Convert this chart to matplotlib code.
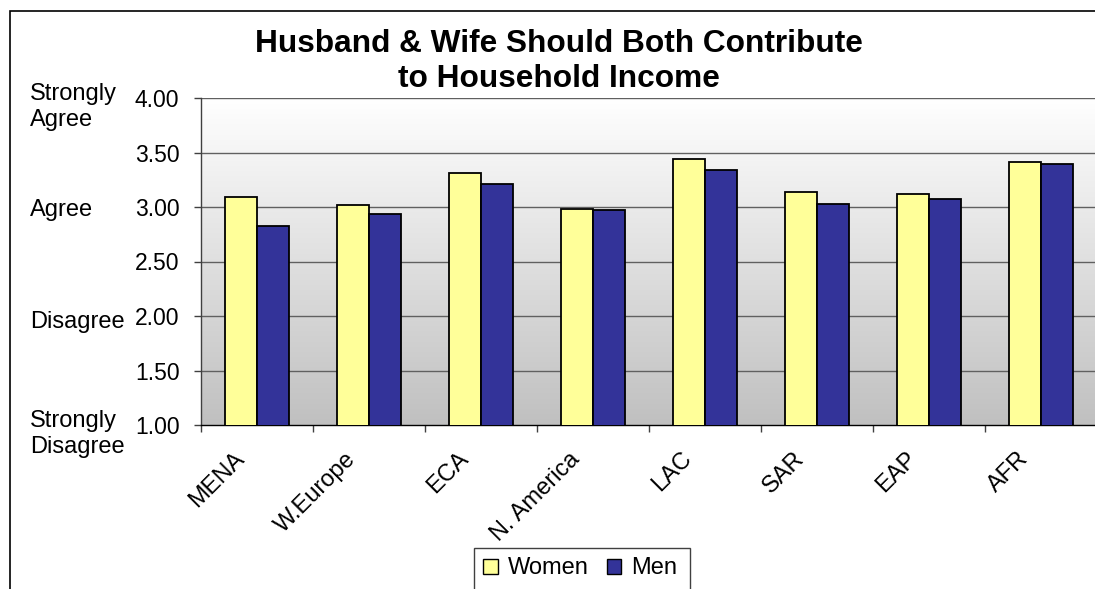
import numpy as np
import matplotlib
matplotlib.use("Agg")
import matplotlib.pyplot as plt
from matplotlib.patches import Rectangle, Patch
from matplotlib.transforms import blended_transform_factory, ScaledTranslation

plt.rcParams['font.family'] = ['Liberation Sans', 'DejaVu Sans']

regions = ["MENA", "W.Europe", "ECA", "N. America", "LAC", "SAR", "EAP", "AFR"]
women = [3.09, 3.02, 3.31, 2.98, 3.44, 3.14, 3.12, 3.41]
men = [2.83, 2.94, 3.21, 2.97, 3.34, 3.03, 3.07, 3.39]
y_ticks = [1.0, 1.5, 2.0, 2.5, 3.0, 3.5, 4.0]
scale_labels = [(4.0, "Strongly\nAgree"), (3.0, "Agree"), (2.0, "Disagree"),
                (1.0, "Strongly\nDisagree")]

W, H = 1095, 589
fig = plt.figure(figsize=(W / 100, H / 100), dpi=100)
fig.patch.set_facecolor("white")

# outer chart border (runs off the right and bottom edges)
fig.patches.append(Rectangle((9.5 / W, -0.2), 1.2, (H - 11) / H + 0.2,
                             transform=fig.transFigure, fill=False,
                             edgecolor="black", linewidth=1.2, zorder=0))

left, right, top, bottom = 201, 1097, 98, 425
ax = fig.add_axes([left / W, (H - bottom) / H, (right - left) / W, (bottom - top) / H])

n = len(regions)
x = np.arange(n)
w = 32 / 112

ax.set_xlim(-0.5, n - 0.5)
ax.set_ylim(1.0, 4.0)

# gradient plot-area fill, white at top to silver at bottom
grad = np.linspace(1.0, 0.0, 256).reshape(-1, 1)
ax.imshow(grad, extent=(-0.5, n - 0.5, 1.0, 4.0), aspect="auto",
          cmap=matplotlib.colors.LinearSegmentedColormap.from_list(
              "bg", ["#C0C0C0", "#FFFFFF"]),
          origin="upper", zorder=0, interpolation="bilinear")

for yv in y_ticks[1:]:
    ax.axhline(yv, color="#606060", linewidth=1.0, zorder=1)

ax.bar(x - w / 2, women, width=w, color="#FFFF99", edgecolor="black",
       linewidth=1.3, zorder=3, label="Women")
ax.bar(x + w / 2, men, width=w, color="#333399", edgecolor="black",
       linewidth=1.3, zorder=3, label="Men")

for side in ("top", "right"):
    ax.spines[side].set_visible(False)
ax.spines["left"].set_color("#404040")
ax.spines["bottom"].set_color("black")
ax.spines["left"].set_linewidth(1.0)
ax.spines["bottom"].set_linewidth(1.0)

ax.set_yticks(y_ticks)
ax.set_yticklabels([f"{v:.2f}" for v in y_ticks], fontsize=16.5)
ax.tick_params(axis="y", length=5, width=1, pad=10.5, color="#404040")

ax.set_xticks(x)
ax.set_xticklabels(regions, fontsize=17, rotation=45, ha="right", va="top",
                   rotation_mode="anchor")
ax.tick_params(axis="x", which="major", length=0, pad=16.5)
shift = ScaledTranslation(-24 / 100, 0, fig.dpi_scale_trans)
for lab in ax.get_xticklabels():
    lab.set_transform(lab.get_transform() + shift)
ax.set_xticks(np.arange(n + 1) - 0.5, minor=True)
ax.tick_params(axis="x", which="minor", length=5, width=1, color="#404040")

# verbal scale labels beside the numeric ticks
trans = blended_transform_factory(fig.transFigure, ax.transData)
line_gap = 29 / 109  # one text line, in data units
single_pos = {3.0: 2.97, 2.0: 1.945}
for yv, txt in scale_labels:
    if "\n" in txt:
        ax.text(30 / W, yv + 0.01 - line_gap, txt, transform=trans, fontsize=17,
                ha="left", va="baseline", linespacing=1.22, clip_on=False)
    else:
        ax.text(30 / W, single_pos[yv], txt, transform=trans, fontsize=17,
                ha="left", va="center", clip_on=False)

fig.text(559 / W, 1 - 61.5 / H, "Husband & Wife Should Both Contribute\nto Household Income",
         ha="center", va="center", fontsize=22.8, fontweight="bold", linespacing=1.18)

handles = [Patch(facecolor="#FFFF99", edgecolor="black", linewidth=1.0),
           Patch(facecolor="#333399", edgecolor="black", linewidth=1.0)]
leg = fig.legend(handles, ["Women", "Men"], loc="upper left",
                 bbox_to_anchor=(474 / W, 1 - 548 / H), ncol=2, fontsize=17,
                 frameon=False, handlelength=0.6, handleheight=0.6,
                 handletextpad=0.45, columnspacing=0.75, borderpad=0.4,
                 borderaxespad=0)
# legend box: open at the bottom where the chart area is cut off
fig.patches.append(Rectangle((474 / W, -0.05), 216 / W, (H - 548) / H + 0.05,
                             transform=fig.transFigure, fill=False,
                             edgecolor="#404040", linewidth=1.0, zorder=5))

fig.savefig("out.png", dpi=100)
